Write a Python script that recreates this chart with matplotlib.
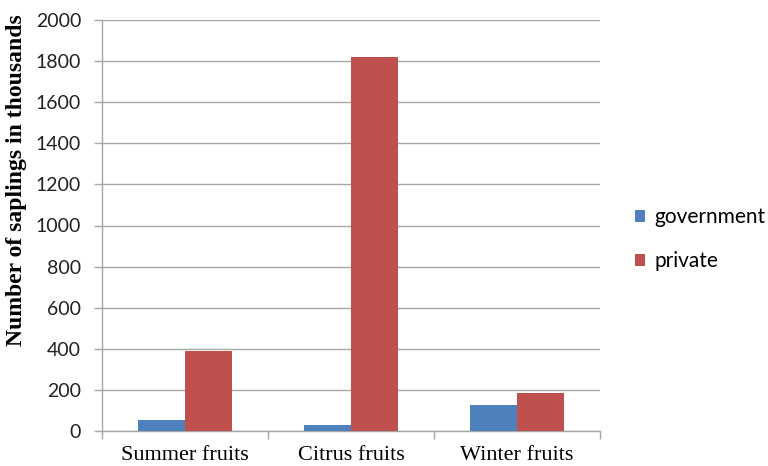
import matplotlib
matplotlib.use("Agg")
import matplotlib.pyplot as plt
import numpy as np

categories = ["Summer fruits", "Citrus fruits", "Winter fruits"]
government = [53, 28, 126]
private = [389, 1820, 185]
y_ticks = [0, 200, 400, 600, 800, 1000, 1200, 1400, 1600, 1800, 2000]

blue = "#4f81bd"
red = "#c0504d"
grid_col = "#a6a6a6"

fig = plt.figure(figsize=(7.68, 4.66), dpi=100)
ax = fig.add_axes([102 / 768, 35 / 466, 498 / 768, 411 / 466])

x = np.arange(len(categories))
w = 0.283
ax.bar(x - w / 2, government, width=w, color=blue, label="government", zorder=3)
ax.bar(x + w / 2, private, width=w, color=red, label="private", zorder=3)

ax.set_xlim(-0.5, len(categories) - 0.5)
ax.set_ylim(0, 2000)
ax.set_yticks(y_ticks)
ax.yaxis.grid(True, color=grid_col, linewidth=1.0, zorder=0)
ax.set_axisbelow(True)

for s in ["top", "right"]:
    ax.spines[s].set_visible(False)
for s in ["left", "bottom"]:
    ax.spines[s].set_color(grid_col)
    ax.spines[s].set_linewidth(1.0)

# category labels centred, tick marks on category boundaries
ax.set_xticks(x)
ax.set_xticklabels(categories, fontfamily="Liberation Serif", fontsize=16)
ax.tick_params(axis="x", which="major", length=0, pad=10.5)
ax.set_xticks(np.arange(-0.5, len(categories)), minor=True)
ax.tick_params(axis="x", which="minor", length=6, color=grid_col, width=1.0)

ax.tick_params(axis="y", length=6, color=grid_col, width=1.0, pad=9)
for lbl in ax.get_yticklabels():
    lbl.set_fontfamily("Lato")
    lbl.set_fontsize(14)
    lbl.set_color("#222222")

ax.set_ylabel("Number of saplings in thousands", fontfamily="Liberation Serif",
              fontweight="bold", fontsize=17)
ax.yaxis.set_label_coords(-0.151, 0.61)

leg = fig.legend(loc="upper left", bbox_to_anchor=(635 / 768, 1 - 207 / 466),
                 frameon=False, prop={"family": "Lato", "size": 15},
                 handlelength=0.5, handleheight=0.5, handletextpad=0.45,
                 labelspacing=1.15, borderaxespad=0, borderpad=0)

fig.savefig("out.png", dpi=100)
